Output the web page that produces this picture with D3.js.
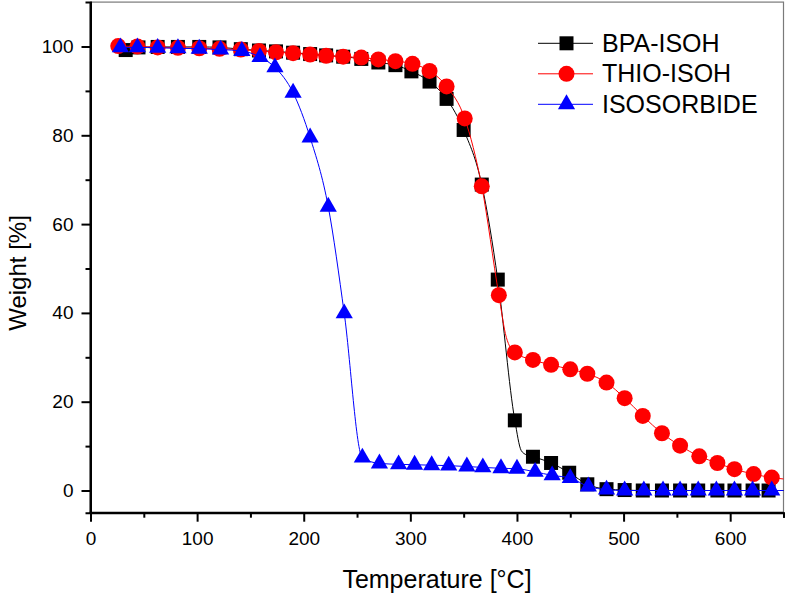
<!DOCTYPE html>
<html><head><meta charset="utf-8">
<script src="https://cdn.jsdelivr.net/npm/d3@7"></script>
<style>body{margin:0;background:#fff}svg{display:block}text{font-family:"Liberation Sans",Arial,sans-serif;fill:#000}</style>
</head><body>
<svg id="c" width="787" height="594"></svg>
<script>
// ---- data ----
const seriesNames = ["BPA-ISOH", "THIO-ISOH", "ISOSORBIDE"];
const tempBPA = [33,45,63,82,102,121,141,158,174,190,206,221,237,254,270,286,301,318,334,350,367,382,398,415,432,449,466,484,501,518,536,553,570,588,604,621,636];
const weightBPA = [99.2,99.8,99.9,99.9,99.9,99.8,99.4,99.1,98.9,98.6,98.3,98.0,97.7,97.2,96.4,95.8,94.4,92.1,88.2,81.2,68.9,47.5,15.8,7.6,6.2,4.0,1.4,0.3,0.1,0,0,0,0,0,0,0,0];
const tempTHIO = [26,44,63,82,102,121,141,158,174,190,206,221,237,254,270,286,302,318,334,351,367,383,398,415,432,450,466,484,501,518,536,553,571,588,604,622,639];
const weightTHIO = [100.1,100.0,99.8,99.7,99.6,99.5,99.3,99.0,98.7,98.5,98.2,97.9,97.7,97.5,97.1,96.7,96.1,94.5,91.0,83.8,68.5,44.0,31.1,29.4,28.3,27.3,26.3,24.3,20.8,16.8,12.9,10.1,7.7,6.2,4.8,3.7,2.9];
const tempISO = [28,44,63,82,102,122,142,159,173,190,206,223,238,255,271,289,304,320,336,353,368,385,400,417,433,450,467,484,501,519,537,553,570,587,604,621,639];
const weightISO = [99.8,99.8,99.7,99.6,99.5,99.3,99.0,97.6,95.3,89.6,79.5,63.9,39.9,7.4,6.1,5.9,5.8,5.7,5.6,5.4,5.2,5.0,4.9,4.2,3.4,2.8,0.9,0.2,0,0,0,0,0,0,0,0,0];
// extra points of the continuous curves (between / beyond the symbols)
const lineExtraBPA = [[404,9.0],[409,8.0],[650,0]];
const lineExtraTHIO = [[390,34.5],[650,2.6]];
const lineExtraISO = [[650,0]];
const xMajorTicks = [0,100,200,300,400,500,600];
const xMinorTicks = [50,150,250,350,450,550,650];
const yMajorTicks = [0,20,40,60,80,100];
const yMinorTicks = [10,30,50,70,90];
const xTitle = "Temperature [°C]";
const yTitle = "Weight [%]";

// ---- chart ----
const svg = d3.select("#c");
const L = 90.5, R = 783.5, T = 2.1, B = 512.7;
const x = d3.scaleLinear().domain([0,650]).range([L,R]);
const y = d3.scaleLinear().domain([-5,110]).range([B,T]);

svg.append("rect").attr("x",L).attr("y",T).attr("width",R-L).attr("height",B-T)
  .attr("fill","none").attr("stroke","#7a7a7a").attr("stroke-width",1.2);

const series = [
  {name:seriesNames[0], t:tempBPA, w:weightBPA, extra:lineExtraBPA, color:"#000000", sym:"square"},
  {name:seriesNames[1], t:tempTHIO, w:weightTHIO, extra:lineExtraTHIO, color:"#ff0000", sym:"circle"},
  {name:seriesNames[2], t:tempISO, w:weightISO, extra:lineExtraISO, color:"#0000ff", sym:"triangle"}
];
const symGen = {
  square: d3.symbol(d3.symbolSquare, 196),
  circle: d3.symbol(d3.symbolCircle, Math.PI*8*8),
  triangle: d3.symbol(d3.symbolTriangle, 128)
};
const line = d3.line().x(d=>x(d[0])).y(d=>y(d[1])).curve(d3.curveMonotoneX);

const plot = svg.append("g");
series.forEach(s=>{
  const pts = s.t.map((t,i)=>[t,s.w[i]]);
  const lp = pts.concat(s.extra).sort((a,b)=>a[0]-b[0]);
  plot.append("path").attr("d",line(lp)).attr("fill","none").attr("stroke",s.color).attr("stroke-width",1);
  plot.selectAll(null).data(pts).enter().append("path")
    .attr("d",symGen[s.sym]())
    .attr("transform",d=>`translate(${x(d[0])},${y(d[1])})`)
    .attr("fill",s.color);
});

// axes
const axFont = "19px";
const gx = svg.append("g").attr("transform",`translate(0,${B})`)
  .call(d3.axisBottom(x).tickValues(xMajorTicks).tickSize(9).tickPadding(10).tickFormat(d3.format("d")));
const gxm = svg.append("g").attr("transform",`translate(0,${B})`)
  .call(d3.axisBottom(x).tickValues(xMinorTicks).tickSize(5).tickFormat(""));
const gy = svg.append("g").attr("transform",`translate(${L},0)`)
  .call(d3.axisLeft(y).tickValues(yMajorTicks).tickSize(9).tickPadding(8).tickFormat(d3.format("d")));
const gym = svg.append("g").attr("transform",`translate(${L},0)`)
  .call(d3.axisLeft(y).tickValues(yMinorTicks).tickSize(5).tickFormat(""));
[gx,gxm,gy,gym].forEach(g=>{
  g.select(".domain").attr("stroke","#000").attr("stroke-width",2);
  g.selectAll(".tick line").attr("stroke","#000").attr("stroke-width",2);
  g.selectAll(".tick text").attr("font-size",axFont).attr("font-family","Liberation Sans, Arial, sans-serif").attr("fill","#000");
});
gx.select(".domain").attr("d",`M${L-1},0H${R}`);
gy.select(".domain").attr("d",`M0,${T}V${B+1}`);

svg.append("text").attr("x",437).attr("y",588).attr("text-anchor","middle")
  .attr("font-size","25px").text(xTitle);
svg.append("text").attr("transform","translate(26,273) rotate(-90)").attr("text-anchor","middle")
  .attr("font-size","24px").text(yTitle);

// legend
const lg = svg.append("g");
series.forEach((s,i)=>{
  const cy = 43.3 + i*30.5;
  lg.append("line").attr("x1",538).attr("x2",593).attr("y1",cy).attr("y2",cy).attr("stroke",s.color).attr("stroke-width",1);
  lg.append("path").attr("d",symGen[s.sym]()).attr("transform",`translate(566.5,${cy})`).attr("fill",s.color);
  lg.append("text").attr("x",602).attr("y",cy+8.6).attr("font-size","25px").text(s.name);
});
</script>
</body></html>
